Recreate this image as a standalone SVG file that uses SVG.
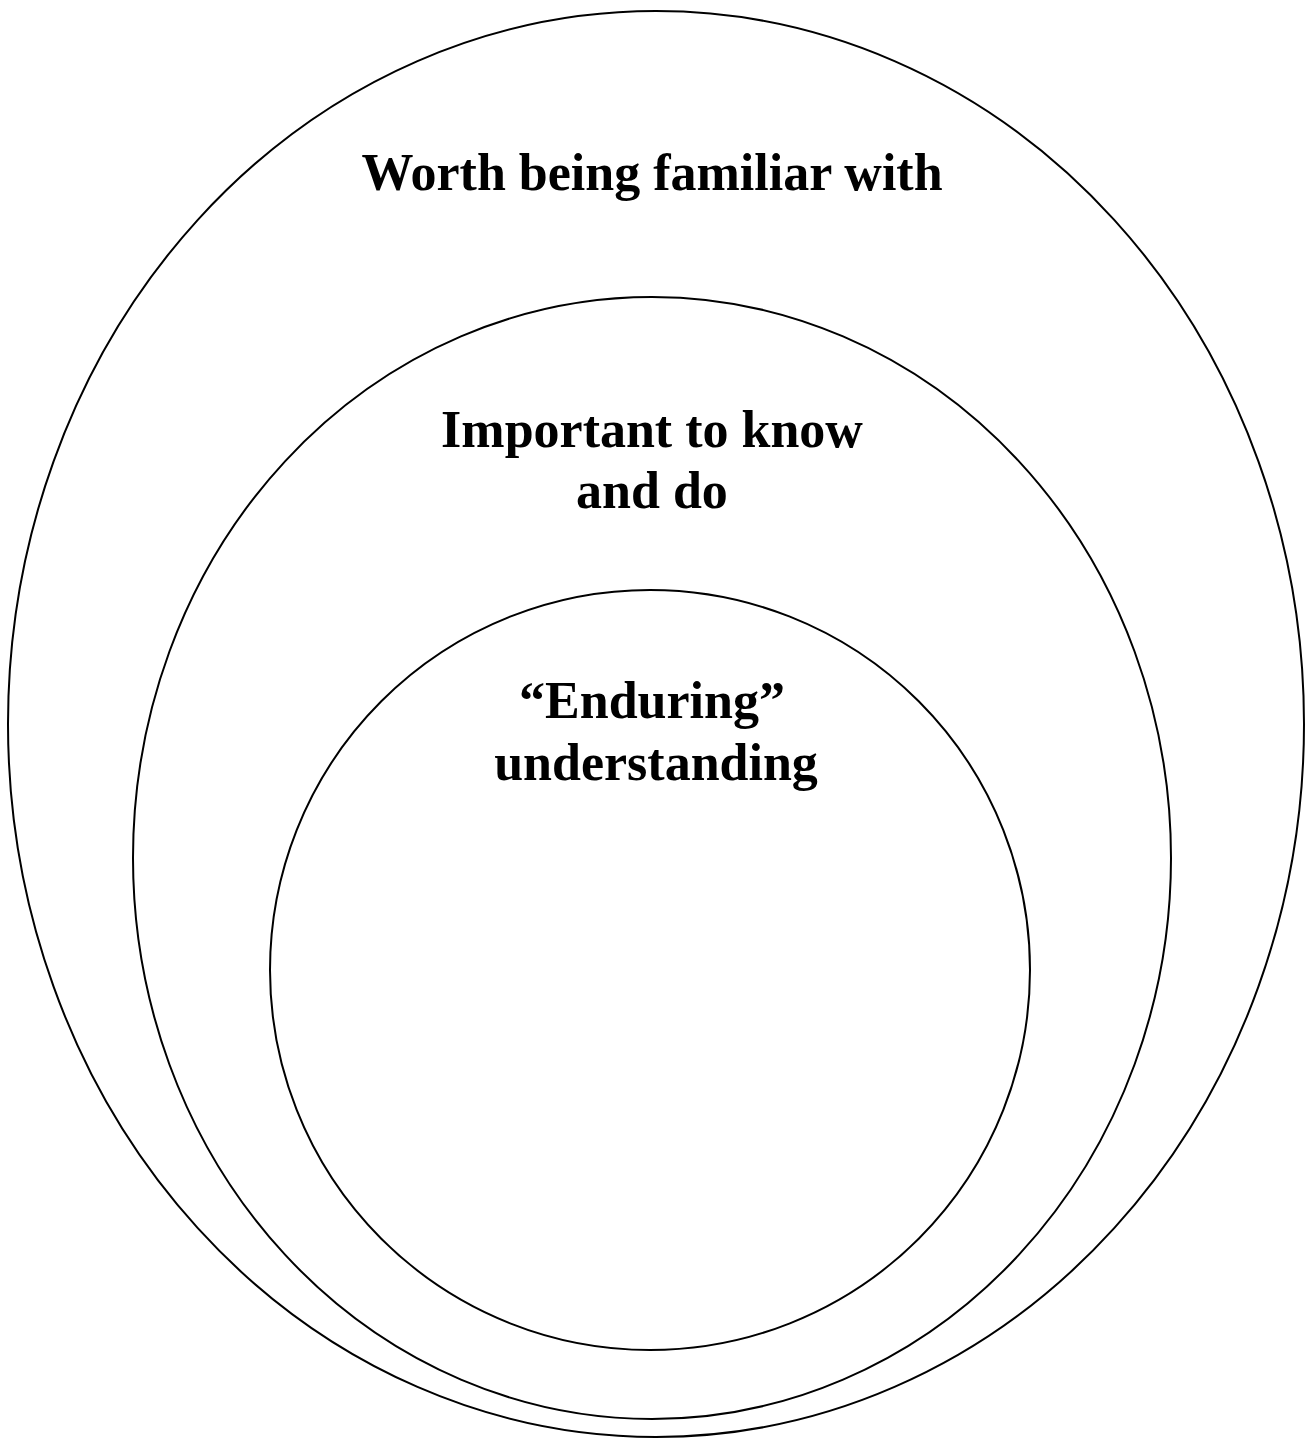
<svg xmlns="http://www.w3.org/2000/svg" width="1310" height="1444" viewBox="0 0 1310 1444">
<style>
.ring{fill:none;stroke:#000;stroke-width:2}
.lbl{font-family:"Liberation Serif","Times New Roman",serif;font-weight:bold;font-size:52px;fill:#000;text-anchor:middle}
</style>
<rect width="1310" height="1444" fill="#fff"/>
<g id="outer">
<ellipse class="ring" cx="656" cy="724" rx="648" ry="713"/>
<text class="lbl" x="652" y="190">Worth being familiar with</text>
</g>
<g id="middle">
<ellipse class="ring" cx="652" cy="858" rx="519" ry="561"/>
<text class="lbl" x="652" y="447">Important to know</text>
<text class="lbl" x="652" y="508">and do</text>
</g>
<g id="inner">
<ellipse class="ring" cx="650" cy="970" rx="380" ry="380"/>
<text class="lbl" x="652" y="718">“Enduring”</text>
<text class="lbl" x="656" y="780">understanding</text>
</g>
<g id="connectors"></g>
</svg>
